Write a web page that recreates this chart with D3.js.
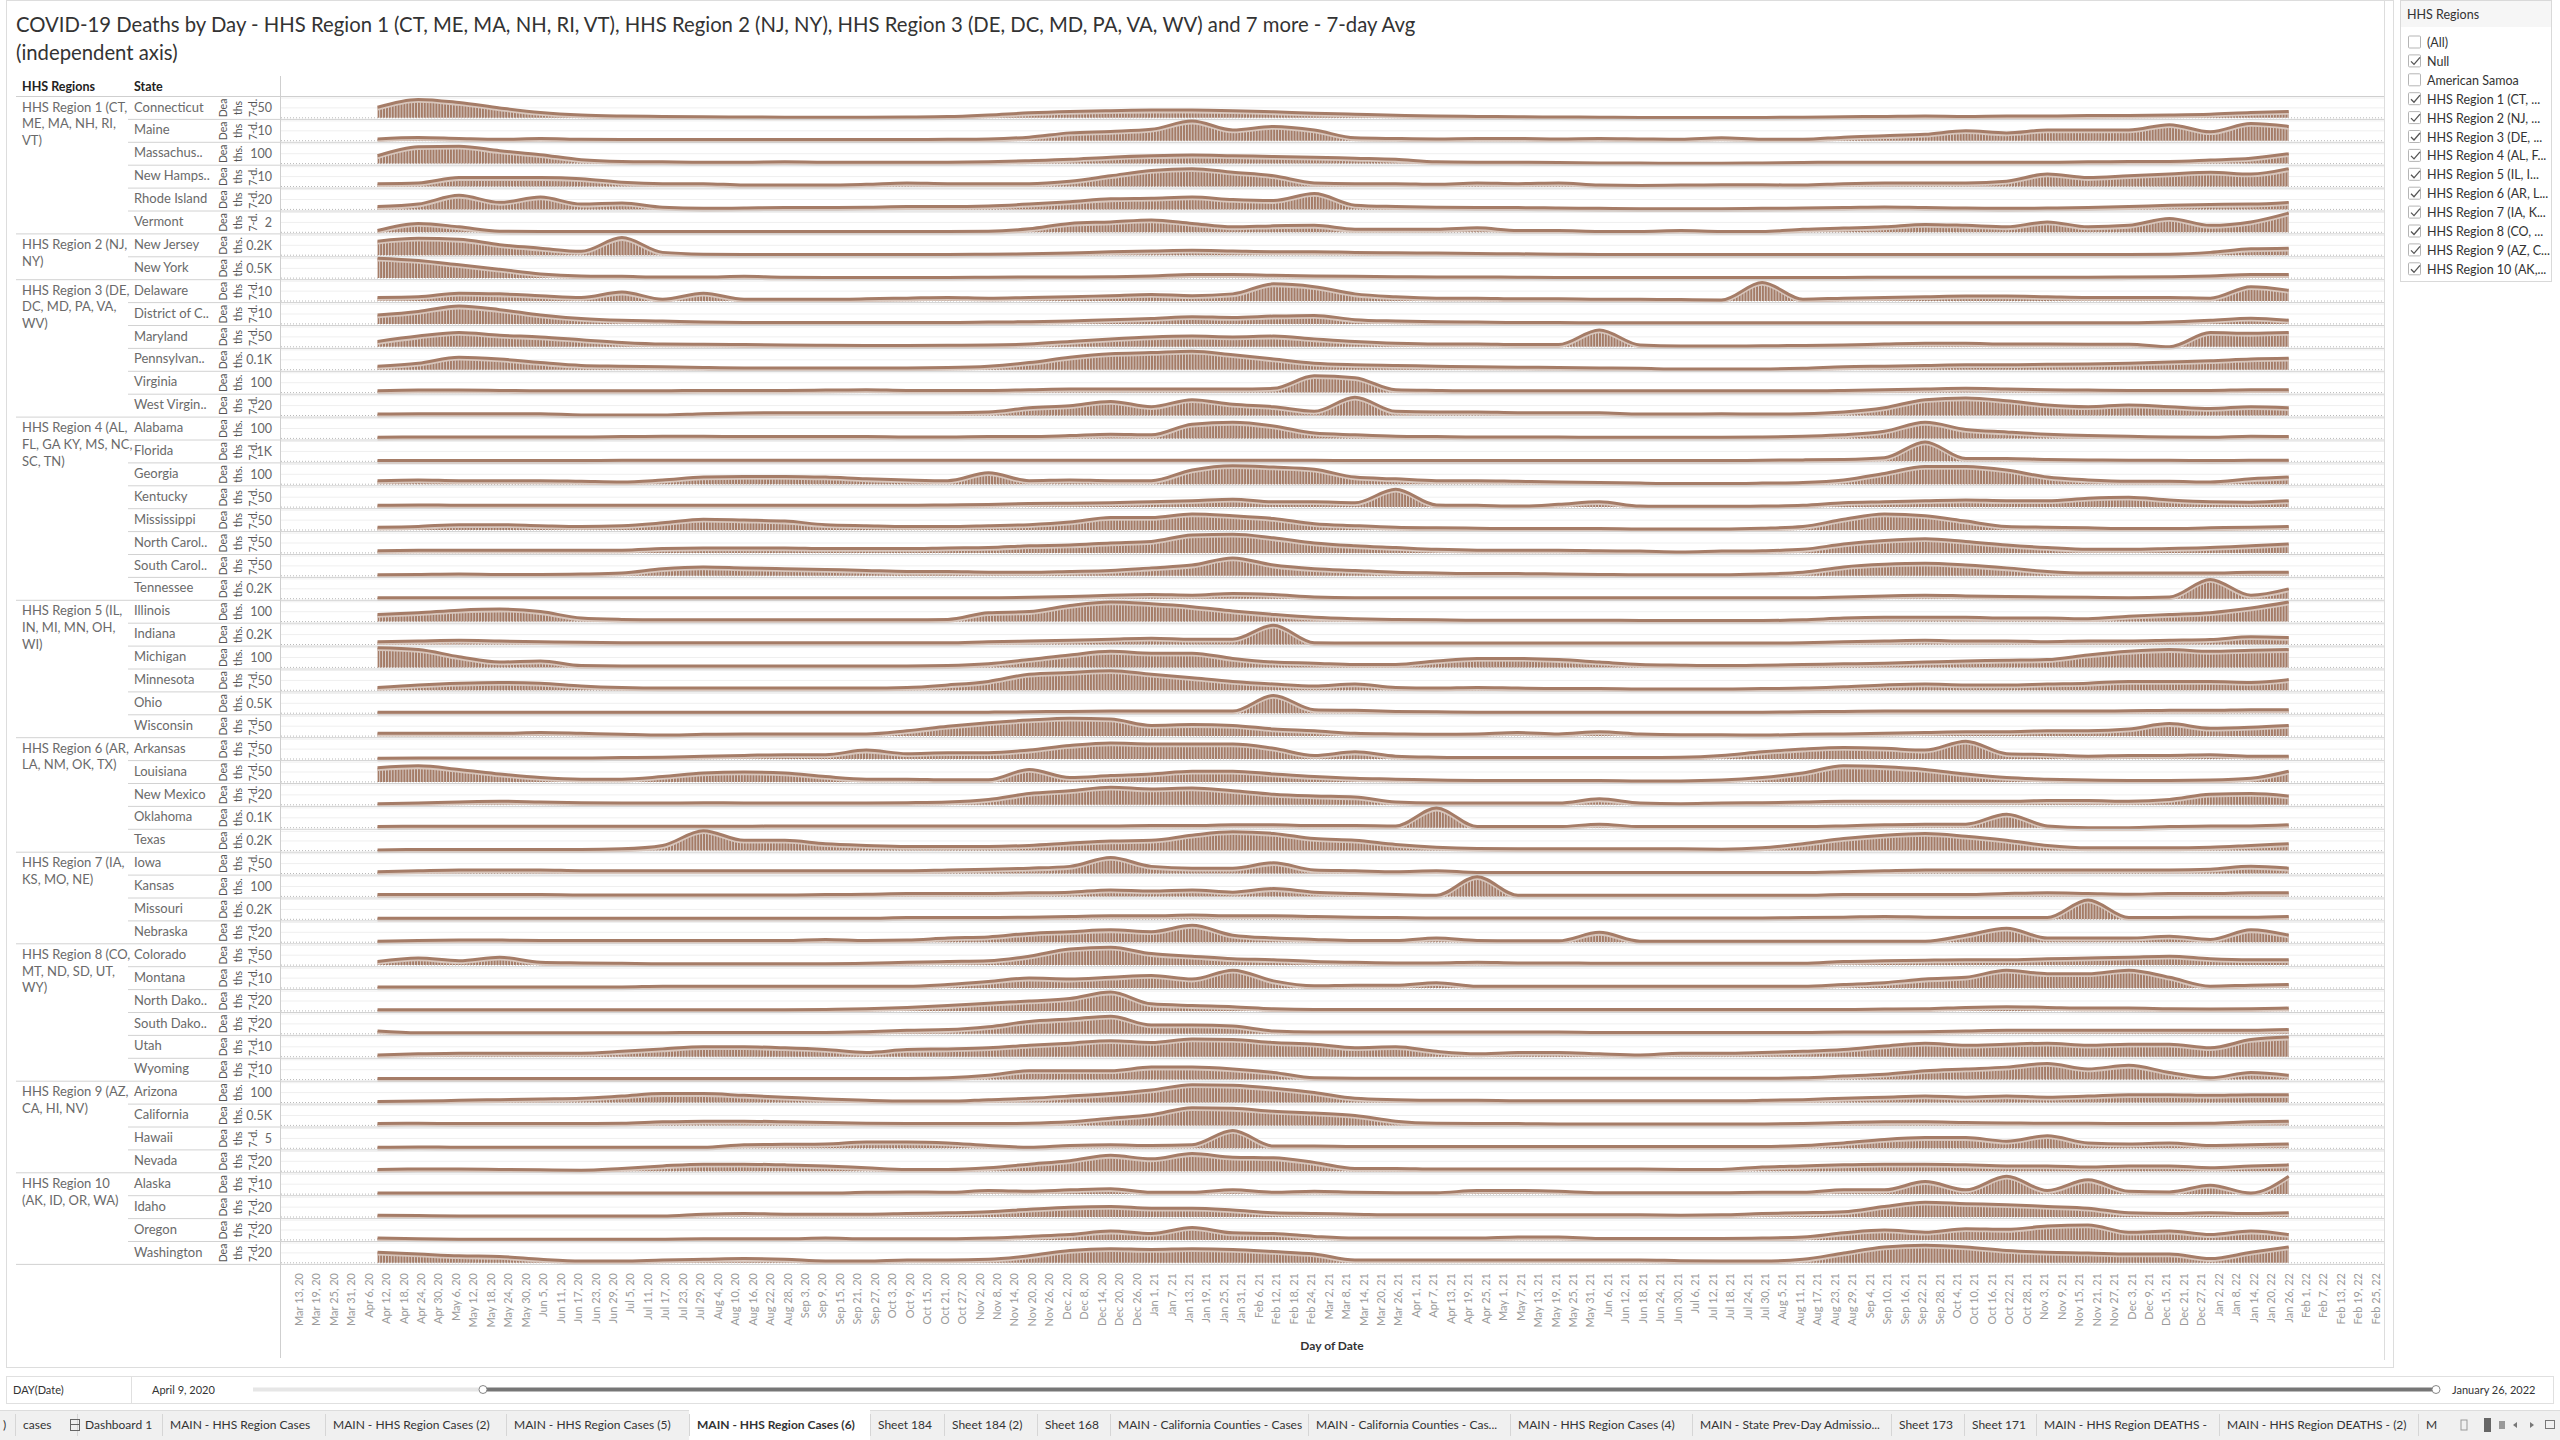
<!DOCTYPE html>
<html lang="en">
<head>
<meta charset="utf-8">
<title>COVID-19 Deaths by Day - HHS Regions</title>
<script src="https://d3js.org/d3.v7.min.js"></script>
<style>
  body { margin: 0; background: #fff; }
  svg { display: block; font-family: Lato, "Open Sans", sans-serif; }
</style>
</head>
<body>
<script>

// ---- data ----
var titleLines = ["COVID-19 Deaths by Day - HHS Region 1 (CT, ME, MA, NH, RI, VT), HHS Region 2 (NJ, NY), HHS Region 3 (DE, DC, MD, PA, VA, WV) and 7 more - 7-day Avg",
                  "(independent axis)"];

var regionLabels = [
  ["HHS Region 1 (CT,", "ME, MA, NH, RI,", "VT)"],
  ["HHS Region 2 (NJ,", "NY)"],
  ["HHS Region 3 (DE,", "DC, MD, PA, VA,", "WV)"],
  ["HHS Region 4 (AL,", "FL, GA KY, MS, NC,", "SC, TN)"],
  ["HHS Region 5 (IL,", "IN, MI, MN, OH,", "WI)"],
  ["HHS Region 6 (AR,", "LA, NM, OK, TX)"],
  ["HHS Region 7 (IA,", "KS, MO, NE)"],
  ["HHS Region 8 (CO,", "MT, ND, SD, UT,", "WY)"],
  ["HHS Region 9 (AZ,", "CA, HI, NV)"],
  ["HHS Region 10", "(AK, ID, OR, WA)"]
];

var stateLabels = [
  ["Connecticut", "Maine", "Massachus..", "New Hamps..", "Rhode Island", "Vermont"],
  ["New Jersey", "New York"],
  ["Delaware", "District of C..", "Maryland", "Pennsylvan..", "Virginia", "West Virgin.."],
  ["Alabama", "Florida", "Georgia", "Kentucky", "Mississippi", "North Carol..", "South Carol..", "Tennessee"],
  ["Illinois", "Indiana", "Michigan", "Minnesota", "Ohio", "Wisconsin"],
  ["Arkansas", "Louisiana", "New Mexico", "Oklahoma", "Texas"],
  ["Iowa", "Kansas", "Missouri", "Nebraska"],
  ["Colorado", "Montana", "North Dako..", "South Dako..", "Utah", "Wyoming"],
  ["Arizona", "California", "Hawaii", "Nevada"],
  ["Alaska", "Idaho", "Oregon", "Washington"]
];

// axis tick shown on each state's independent axis
var tickValues = [
  [50, 10, 100, 10, 20, 2],
  [200, 500],
  [10, 10, 50, 100, 100, 20],
  [100, 1000, 100, 50, 50, 50, 50, 200],
  [100, 200, 100, 50, 500, 50],
  [50, 50, 20, 100, 200],
  [50, 100, 200, 20],
  [50, 10, 20, 20, 10, 10],
  [100, 500, 5, 20],
  [10, 20, 20, 20]
];
var tickLabels = [
  ["50", "10", "100", "10", "20", "2"],
  ["0.2K", "0.5K"],
  ["10", "10", "50", "0.1K", "100", "20"],
  ["100", "1K", "100", "50", "50", "50", "50", "0.2K"],
  ["100", "0.2K", "100", "50", "0.5K", "50"],
  ["50", "50", "20", "0.1K", "0.2K"],
  ["50", "100", "0.2K", "20"],
  ["50", "10", "20", "20", "10", "10"],
  ["100", "0.5K", "5", "20"],
  ["10", "20", "20", "20"]
];

// sample dates (every two weeks, Apr 9 2020 .. Jan 26 2022)
var sampleDates = ["2020-04-09","2020-04-23","2020-05-07","2020-05-21","2020-06-04","2020-06-18","2020-07-02","2020-07-16",
  "2020-07-30","2020-08-13","2020-08-27","2020-09-10","2020-09-24","2020-10-08","2020-10-22","2020-11-05",
  "2020-11-19","2020-12-03","2020-12-17","2020-12-31","2021-01-14","2021-01-28","2021-02-11","2021-02-25",
  "2021-03-11","2021-03-25","2021-04-08","2021-04-22","2021-05-06","2021-05-20","2021-06-03","2021-06-17",
  "2021-07-01","2021-07-15","2021-07-29","2021-08-12","2021-08-26","2021-09-09","2021-09-23","2021-10-07",
  "2021-10-21","2021-11-04","2021-11-18","2021-12-02","2021-12-16","2021-12-30","2022-01-13","2022-01-26"];

// deaths per day, 7-day avg, one array per state
var deathsR1 = [
  [53,93,77,50,27,14,9,7, 5,4,3,3,3,4,6,14, 25,32,36,39,39,36,30,23, 18,13,9,7,5,4,3,2, 2,2,2,3,5,7,9,7, 9,9,11,12,14,18,27,32],
  [1.8,3.2,2.2,1.4,2.2,1.4,1.1,1.1, 1.1,1.1,1.1,1.1,1.1,1.1,1.4,1.8, 3.6,7.9,9.4,11.5,19.8,10.8,14.4,10.8, 2.9,2.2,1.8,2.2,2.2,1.8,2.2,1.8, 1.4,2.9,1.4,1.4,3.6,5,6.5,10, 7.9,10.8,10.8,10.8,16.2,9,17.3,14.4],
  [79,170,175,130,90,40,22,18, 14,14,18,14,14,14,14,18, 29,43,65,79,86,79,72,65, 54,43,18,14,13,11,7,5, 4,4,7,11,14,14,14,14, 14,14,18,22,22,36,54,100],
  [2.9,3.6,9,9,9,7.9,4.3,2.9, 2.9,1.4,1.4,1.4,2.2,3.6,2.9,2.9, 2.9,5.4,10.8,16.2,18,14.4,10.8,3.6, 2.9,2.9,2.2,3.6,2.9,3.6,1.4,1.1, 1.4,1.8,1.8,1.4,2.9,3.6,3.6,3.6, 5.4,12.6,9,10.8,12.6,14.4,12.6,18],
  [5.7,10.7,28.4,14.2,24.9,10.7,12.8,4.3, 2.1,2.8,3.6,3.6,4.3,5.7,5.7,7.1, 10.7,15.6,21.3,22.7,24.9,19.9,17.8,32, 8.5,5.7,4.3,3.6,3.6,2.8,2.1,1.4, 1.4,1.4,2.1,2.8,3.6,5,3.6,2.8, 2.1,2.8,3.6,5.7,8.5,10,10.7,14.2],
  [0.35,1.8,1.1,0.2,0.15,0.15,0.15,0.15, 0.15,0.15,0.15,0.15,0.15,0.15,0.15,0.2, 0.7,1.8,2.1,2.5,1.8,1.1,1.3,1.4, 0.6,0.6,0.6,0.9,0.35,0.35,0.15,0.15, 0.35,0.15,0.15,0.6,0.85,1.1,1.6,1.4, 1.1,2.1,1.1,1.4,2.8,1.4,2.1,3.9]
];
var deathsR2 = [
  [284,341,320,213,142,78,355,57, 21,14,14,14,14,14,14,21, 28,43,71,85,99,85,71,71, 57,50,43,35,28,21,14,14, 14,14,14,14,14,14,14,14, 14,14,14,14,21,57,128,142],
  [1020,900,680,450,215,110,90,55, 55,90,40,36,36,36,36,45, 54,54,72,107,180,180,143,107, 90,72,54,54,45,36,36,36, 36,36,36,36,36,40,45,45, 45,45,45,54,72,107,180,180]
];
var deathsR3 = [
  [3.6,4.3,7.9,7.2,5.4,3.6,9,1.8, 7.9,1.8,1.8,1.8,2.2,2.9,3.6,2.9, 3.6,4.3,5.4,6.5,5.4,7.2,17.3,14.4, 7.2,4.3,2.9,2.9,2.2,2.2,1.8,1.8, 1.4,1.1,18.7,1.8,2.9,3.6,4.3,5, 5,4.3,3.6,3.6,3.6,2.9,14.4,10.8],
  [9,12.6,18,14.4,9,5.4,3.6,2.9, 1.8,1.4,1.4,1.4,1.4,1.4,1.4,1.8, 2.2,2.9,4.3,5.4,7.2,6.5,7.9,8.6, 4.3,2.9,2.2,1.8,1.4,1.4,1.1,1.1, 1.1,1.1,1.1,1.1,1.1,1.1,1.1,1.1, 1.1,1.1,1.1,1.1,1.8,3.6,5.8,3.6],
  [27,54,72,58,50,36,22,14, 13,11,9,8,7,7,8,9, 14,27,40,50,54,50,54,40, 27,18,14,14,11,11,85,9, 4,4,5,7,9,14,18,18, 14,14,13,13,0,72,68,72],
  [36,65,126,108,72,43,36,29, 22,18,18,18,18,18,22,36, 72,126,162,173,187,151,108,65, 50,43,36,29,25,22,18,14, 7,7,7,14,29,36,43,50, 50,54,58,65,79,90,108,115],
  [18,25,25,22,18,18,18,18, 22,22,22,25,29,22,22,22, 29,36,36,36,36,36,43,170, 150,29,22,18,18,18,18,18, 18,18,18,18,22,29,36,43, 36,29,25,22,22,22,29,29],
  [2.8,3.6,3.6,3.6,3.6,1,1,1, 3.6,5,5.7,5.7,5.7,5.7,5.7,7.1, 15.6,19.9,28.4,17.8,32,22.7,17.8,8.5, 37,8.5,7.1,7.1,5.7,5.7,5.7,2.8, 2.8,3.6,2.8,3.6,7.1,15.6,32,35.5, 30,21.3,17.8,21.3,17.8,14.2,17.8,15.6]
];
var deathsR4 = [
  [11,14,14,14,14,14,18,22, 22,18,18,18,18,14,14,18, 18,29,43,36,144,162,126,54, 36,22,18,14,14,14,11,11, 11,11,14,22,36,72,162,90, 65,43,29,22,14,11,22,18],
  [71,71,71,71,71,71,107,107, 107,107,107,107,107,107,107,107, 107,107,107,107,107,107,107,107, 71,71,71,71,71,71,71,71, 71,71,107,143,178,357,1960,286, 286,178,143,107,107,71,107,107],
  [36,43,36,36,36,29,22,43, 72,79,79,72,54,43,36,115, 36,43,36,36,144,187,173,151, 72,54,36,36,29,22,18,11, 7,7,11,18,43,108,180,180, 144,72,43,29,29,22,54,72],
  [9,11,9,9,9,9,9,9, 9,9,9,9,9,9,11,13, 18,20,22,27,32,40,27,27, 22,90,11,9,5,14,27,5, 4,4,5,9,22,27,32,36, 32,32,45,50,36,27,25,32],
  [14,18,27,27,22,18,22,36, 54,50,45,27,22,18,18,22, 27,40,63,63,81,72,58,32, 22,14,11,9,7,7,7,5, 5,5,9,18,54,81,72,45, 18,14,11,7,7,11,14,18],
  [11,13,14,14,14,14,14,22, 25,25,25,22,22,22,25,27, 36,40,50,58,90,94,76,50, 36,27,18,14,14,14,11,9, 5,9,11,18,45,63,72,58, 40,27,18,18,22,27,36,45],
  [5,7,9,7,7,9,14,36, 45,40,36,32,27,22,22,18, 18,22,27,40,54,90,54,36, 27,18,14,11,11,9,7,5, 5,5,9,18,45,58,63,54, 40,22,14,14,14,14,18,18],
  [21,21,21,21,21,21,21,21, 21,21,21,21,21,21,21,21, 28,43,71,85,71,107,85,36, 21,21,21,21,21,21,21,21, 21,21,21,21,36,57,71,57, 43,36,28,21,36,390,71,199]
];
var deathsR5 = [
  [72,90,115,126,101,36,22,18, 18,18,18,18,18,18,22,90, 101,162,198,180,151,108,72,43, 29,22,18,14,14,14,14,11, 11,11,11,18,36,43,43,43, 36,36,29,54,72,90,137,198],
  [57,71,85,71,57,43,36,36, 36,36,36,36,36,36,36,57, 71,85,107,128,107,107,390,36, 28,28,28,28,28,28,28,28, 28,28,28,36,57,71,85,71, 71,57,71,71,85,99,156,142],
  [198,180,108,54,65,18,14,14, 14,14,14,14,14,14,18,36, 79,126,162,144,144,90,54,43, 29,29,65,90,90,79,54,29, 22,18,22,29,36,43,54,65, 72,79,126,162,180,162,173,180],
  [14,27,36,40,36,22,14,11, 11,11,11,11,11,14,27,45, 81,90,99,81,63,45,32,22, 32,14,11,14,11,9,9,7, 7,7,9,11,18,27,32,27, 27,32,36,45,45,45,40,54],
  [54,54,54,54,54,54,54,54, 54,54,54,54,54,54,54,54, 72,90,107,107,107,107,900,179, 143,90,72,54,54,54,54,54, 54,54,54,72,90,107,107,107, 107,107,107,125,143,143,179,179],
  [14,14,14,14,18,14,9,5, 9,11,11,11,11,27,50,68, 81,90,86,54,58,54,36,27, 14,11,9,11,18,11,22,11, 7,7,5,9,11,14,18,22, 22,27,27,36,63,40,45,54]
];
var deathsR6 = [
  [4,5,5,5,5,5,7,9, 14,18,22,22,45,27,32,32, 45,68,81,76,76,76,54,18, 36,14,9,7,7,7,7,7, 9,18,36,50,58,54,45,90, 27,22,14,18,18,22,14,14],
  [72,81,63,40,22,14,14,27, 45,50,45,27,14,14,11,11, 63,22,32,40,54,54,40,27, 18,14,9,7,7,7,7,5, 5,9,22,45,81,76,63,40, 22,14,9,7,7,9,18,54],
  [2,3.6,5.7,7.1,5.7,4.3,3.6,3.6, 4.3,3.6,3.6,3.6,3.6,4.3,5.7,10.7, 22.7,28.4,35.5,32,34,28.4,21.3,17.8, 15.6,5.7,3.6,3.6,3.6,3.6,12,3.6, 2.1,3.6,4.3,5.7,7.1,7.1,7.1,7.1, 7.1,8.5,8.5,7.1,10.7,21.3,22.7,17.8],
  [11,14,14,14,14,14,14,14, 14,14,18,18,18,18,18,18, 18,18,18,22,22,29,29,22, 22,18,198,11,11,11,36,11, 11,11,11,11,18,29,36,36, 137,18,0,0,11,18,18,29],
  [14,21,21,21,21,21,36,107, 412,213,213,142,107,85,85,85, 107,156,199,213,320,390,355,249, 213,128,71,43,36,36,36,36, 36,28,57,142,249,320,355,298, 213,107,57,57,57,71,107,142]
];
var deathsR7 = [
  [9,14,18,18,18,14,14,14, 14,14,14,14,14,14,18,22, 27,36,81,36,27,27,54,18, 14,9,14,5,5,5,5,5, 5,5,5,5,9,14,18,18, 18,18,18,18,18,22,36,27],
  [18,18,18,18,18,14,14,14, 14,14,14,18,22,29,29,29, 36,43,65,54,65,43,79,43, 29,18,11,198,11,11,11,11, 11,11,11,11,18,18,18,18, 29,36,29,22,29,29,36,36],
  [21,21,21,21,21,21,21,21, 21,21,21,21,21,36,36,36, 43,57,71,71,85,71,71,57, 43,36,28,28,28,28,28,28, 28,28,28,36,43,57,43,36, 36,36,390,36,36,43,43,57],
  [2,3.6,4.3,4.3,3.6,3.6,3.6,3.6, 3.6,3.6,3.6,5.7,3.6,4.3,8.5,10.7, 17.8,21.3,24.9,21.3,34,14.2,8.5,5.7, 3.6,3.6,8.5,3.6,2.8,2.8,19.9,2.1, 2.1,2.1,2.1,2.1,2.1,2.1,2.1,14.2, 28.4,8.5,8.5,8.5,12,5.7,24.9,14.2]
];
var deathsR8 = [
  [18,36,22,40,14,11,9,7, 7,7,7,7,9,14,18,22, 45,81,90,58,45,32,27,18, 14,11,11,14,11,11,9,9, 9,9,9,9,18,22,25,27, 27,32,36,40,45,32,27,27],
  [1.1,1.1,1.1,1.1,1.1,1.1,1.1,1.8, 1.8,1.8,1.8,1.8,1.8,1.8,3.6,6.5, 10,9,10.8,12.6,9,18,7.2,2.2, 2.9,2.9,5.4,1.8,1.8,1.8,1.8,1.8, 1.8,1.8,1.8,1.8,3.6,5.4,9,10.8, 18,14.4,14.4,18,10.8,1.8,2.9,3.6],
  [2.1,2.1,2.1,2.1,2.1,2.1,2.1,2.1, 2.1,2.1,2.1,2.8,4.3,7.1,10.7,15.6, 19.9,24.9,38,14.2,10.7,8.5,4.3,2.8, 2.8,2.8,2.8,2.8,2.8,2.8,2.8,2.8, 2.8,2.8,2.8,2.8,2.8,3.6,4.3,7.1, 8.5,7.1,5.7,5.7,4.3,3.6,4.3,5.7],
  [5.7,2.1,2.1,2.1,2.1,2.1,2.1,2.1, 2.8,2.8,2.8,2.8,4.3,7.1,8.5,14.2, 24.9,29.8,35.5,17.8,17.8,15.6,5.7,3.6, 3.6,3.6,3.6,3.6,3.6,3.6,2.8,2.8, 2.8,2.8,2.8,2.8,3.6,3.6,4.3,5.7, 7.1,7.1,7.1,7.1,7.1,7.1,7.1,8.5],
  [1.8,2.9,3.6,3.6,3.6,3.6,5.4,7.9, 10,10,9,7.2,4.3,7.2,7.9,9, 11.5,13.7,16.2,14.4,18,17.3,14.4,12.6, 9,10,5.4,2.9,4.3,4.3,2.9,1.8, 3.6,3.6,4.3,5.4,7.2,10.8,13.7,11.5, 12.6,13.7,11.5,12.6,12.6,9,17.3,19.8],
  [1.1,1.1,1.1,1.1,1.1,1.1,1.1,1.1, 1.1,1.1,1.1,1.1,1.1,1.1,1.8,4.3, 9,9,9,12.6,12.6,10.8,7.2,1.8, 1.4,1.4,1.4,1.4,1.4,1.4,1.4,1.4, 1.4,1.4,1.4,1.8,3.6,5.4,9,10.8, 12.6,16.2,10.8,14.4,7.2,1.8,7.2,4.3]
];
var deathsR9 = [
  [11,14,22,29,36,43,65,90, 90,72,54,36,22,14,14,29, 43,65,90,126,180,173,144,101, 43,29,22,22,18,18,18,18, 18,18,22,29,43,54,65,54, 65,54,65,79,79,72,79,79],
  [90,107,90,90,90,90,107,179, 215,215,179,143,107,90,90,90, 107,179,358,537,895,860,716,627, 501,215,107,90,90,72,72,72, 72,72,72,90,143,179,179,143, 125,107,107,90,90,107,179,215],
  [0.5,0.7,0.5,0.5,0.5,0.5,0.5,0.5, 0.5,1.8,2,2.2,3.2,3.2,2.7,1.4, 0.5,1.4,1.8,1.4,1.8,9,1.1,1.1, 0.9,0.9,0.9,0.9,0.9,0.9,0.9,0.9, 0.9,0.9,0.9,1.4,2.7,4.5,5.4,5.4, 3.6,6.3,2.7,2.2,2.7,1.4,1.8,2.2],
  [3.6,4.3,4.3,3.6,2.8,2.1,5.7,10.7, 14.2,14.2,12.8,10.7,7.1,3.6,3.6,7.1, 14.2,21.3,32,24.9,35.5,28.4,27,17.8, 5.7,5.7,4.3,4.3,4.3,4.3,4.3,4.3, 3.6,3.6,8.5,10.7,12.8,14.2,14.2,12.8, 10.7,10.7,8.5,10.7,10.7,7.1,10.7,12.8]
];
var deathsR10 = [
  [1.1,1.1,1.1,1.1,1.1,1.1,1.1,1.1, 1.1,1.1,1.1,1.1,1.8,2.2,1.8,3.6, 2.9,4.3,5.4,1.8,1.8,4.3,1.8,2.9, 1.8,1.4,1.4,3.6,3.6,2.9,1.4,1.4, 1.4,1.4,1.8,1.8,4.3,4.3,12.6,4.3, 18,3.6,14.4,2.9,2.2,9,1.1,18],
  [3.6,2.8,2.1,2.1,2.1,2.1,2.1,2.1, 5.7,7.1,5.7,5.7,5.7,7.1,8.5,10.7, 15.6,19.9,21.3,17.8,17.8,14.2,8.5,7.1, 5.7,4.3,4.3,4.3,4.3,4.3,4.3,4.3, 3.6,4.3,7.1,8.5,10.7,21.3,29.8,27, 24.9,21.3,17.8,8.5,7.1,8.5,7.1,8.5],
  [3.6,2.1,1.4,1.4,1.4,1.4,1.4,1.4, 2.1,2.1,2.1,3.6,2.1,2.1,2.1,3.6, 7.1,10.7,17.8,12.8,24.9,14.2,12.8,7.1, 3.6,3.6,3.6,3.6,5.7,5.7,2.8,2.8, 2.8,2.8,3.6,5.7,14.2,19.9,15.6,22.7, 21.3,28,30,15.6,17.8,10.7,17.8,10.7],
  [21.3,17.8,14.2,12.8,7.1,3.6,3.6,5.7, 7.1,8.5,7.1,3.6,3.6,5.7,5.7,7.1, 14.2,24.9,28.4,27,28.4,27,22.7,17.8, 5.7,5.7,5.7,5.7,5.7,5.7,5.7,5.7, 4.3,3.6,3.6,7.1,19.9,32,35.5,32, 24.9,21.3,19.9,17.8,17.8,8.5,21.3,32]
];

var filterItems = ["(All)", "Null", "American Samoa", "HHS Region 1 (CT, ...", "HHS Region 2 (NJ, ...", "HHS Region 3 (DE, ...",
  "HHS Region 4 (AL, F...", "HHS Region 5 (IL, I...", "HHS Region 6 (AR, L...", "HHS Region 7 (IA, K...", "HHS Region 8 (CO, ...",
  "HHS Region 9 (AZ, C...", "HHS Region 10 (AK,..."];
var filterChecked = [false, true, false, true, true, true, true, true, true, true, true, true, true];

var tabNames = [")", "cases", "Dashboard 1", "MAIN - HHS Region Cases", "MAIN - HHS Region Cases (2)", "MAIN - HHS Region Cases (5)",
  "MAIN - HHS Region Cases (6)", "Sheet 184", "Sheet 184 (2)", "Sheet 168", "MAIN - California Counties - Cases",
  "MAIN - California Counties - Cas...", "MAIN - HHS Region Cases (4)", "MAIN - State Prev-Day Admissio...", "Sheet 173",
  "Sheet 171", "MAIN - HHS Region DEATHS -", "MAIN - HHS Region DEATHS - (2)", "M"];
var activeTab = 6;

// ---- layout ----
var w = 2560, h = 1440;
var rowTop0 = 96.5, rowH = 22.9;
var plotL = 280, plotR = 2384;
var brown = "#a57c67";
var tabLeft = [3, 23, 85, 170, 333, 514, 697, 878, 952, 1045, 1118, 1316, 1518, 1700, 1899, 1972, 2044, 2227, 2426];

var parseDate = d3.timeParse("%Y-%m-%d");
var dates = sampleDates.map(parseDate);
var xScale = d3.scaleTime()
  .domain([parseDate("2020-03-13"), parseDate("2022-02-25")])
  .range([299, 2376]);
var dayW = xScale(parseDate("2020-03-14")) - xScale(parseDate("2020-03-13"));

// flatten the region tables into rows
var rows = [];
var allDeaths = [deathsR1, deathsR2, deathsR3, deathsR4, deathsR5, deathsR6, deathsR7, deathsR8, deathsR9, deathsR10];
stateLabels.forEach(function(list, r) {
  list.forEach(function(name, j) {
    rows.push({region: r, first: j === 0, state: name, tick: tickValues[r][j], tickLabel: tickLabels[r][j], deaths: allDeaths[r][j]});
  });
});

var svg = d3.select("body").append("svg").attr("width", w).attr("height", h);

// stripe pattern that stands in for the daily bars
var defs = svg.append("defs");
var pat = defs.append("pattern").attr("id", "bars").attr("patternUnits", "userSpaceOnUse")
  .attr("width", dayW).attr("height", 40)
  .attr("patternTransform", "translate(" + (xScale(dates[0]) - 0.3) + ",0)");
pat.append("rect").attr("width", dayW).attr("height", 40).attr("fill", "#d9d1cd");
pat.append("rect").attr("width", dayW * 0.68).attr("height", 40).attr("fill", brown);

// sheet frame
svg.append("rect").attr("x", 6.5).attr("y", 0.5).attr("width", 2387).attr("height", 1367)
  .attr("fill", "none").attr("stroke", "#dddddd");

// title
svg.selectAll("text.title").data(titleLines).enter().append("text").attr("class", "title")
  .attr("x", 16).attr("y", function(d, i) { return 32 + i * 28; })
  .attr("font-size", "20.3px").attr("fill", "#333").text(function(d) { return d; });

// column headers
svg.append("text").attr("x", 22).attr("y", 91).attr("font-size", "12.5px").attr("font-weight", "bold").attr("fill", "#222").text("HHS Regions");
svg.append("text").attr("x", 134).attr("y", 91).attr("font-size", "12.5px").attr("font-weight", "bold").attr("fill", "#222").text("State");

svg.append("line").attr("x1", 16).attr("x2", plotR).attr("y1", rowTop0).attr("y2", rowTop0).attr("stroke", "#cfcfcf");
svg.append("line").attr("x1", plotL + 0.5).attr("x2", plotL + 0.5).attr("y1", 76).attr("y2", 1358).attr("stroke", "#cfcfcf");
svg.append("line").attr("x1", plotR + 0.5).attr("x2", plotR + 0.5).attr("y1", 0).attr("y2", 1360).attr("stroke", "#dddddd");

var area = d3.area().curve(d3.curveMonotoneX);
var line = d3.line().curve(d3.curveMonotoneX);

rows.forEach(function(row, i) {
  var top = rowTop0 + i * rowH;
  var base = top + 21.3;
  var yMax = Math.max(row.tick * 2.05, d3.max(row.deaths) * 1.02);
  var yScale = d3.scaleLinear().domain([0, yMax]).range([base, top + 1]);
  var g = svg.append("g");

  // gridlines
  [row.tick, row.tick * 2].forEach(function(v) {
    g.append("line").attr("x1", plotL + 1).attr("x2", plotR).attr("y1", yScale(v)).attr("y2", yScale(v))
      .attr("stroke", "#efefef");
  });
  g.append("line").attr("x1", plotL + 1).attr("x2", plotR).attr("y1", base).attr("y2", base)
    .attr("stroke", "#b9b9b9").attr("stroke-dasharray", "1,2");

  var pts = row.deaths.map(function(v, k) { return [xScale(dates[k]), yScale(v)]; });
  area.x(function(d) { return d[0]; }).y0(base).y1(function(d) { return d[1]; });
  g.append("path").attr("d", area(pts)).attr("fill", "url(#bars)");
  g.append("path").attr("d", line(pts)).attr("fill", "none").attr("stroke", "#d8c6bc")
    .attr("stroke-width", 3).attr("transform", "translate(0,1.8)");
  g.append("path").attr("d", line(pts)).attr("fill", "none").attr("stroke", brown)
    .attr("stroke-width", 3).attr("stroke-linejoin", "round");

  // state label and rotated axis title
  g.append("text").attr("x", 134).attr("y", top + 15).attr("font-size", "13px").attr("fill", "#6a6a6a").text(row.state);
  var cy = top + rowH / 2;
  var parts = row.tickLabel.length > 2 ? ["Dea", "ths."] : ["Dea", "ths", "7-d."];
  parts.forEach(function(t, k) {
    g.append("text").attr("transform", "translate(" + (223 + k * 15) + "," + cy + ") rotate(-90)")
      .attr("text-anchor", "middle").attr("dy", "0.35em").attr("font-size", "10.5px").attr("fill", "#555").text(t);
  });
  g.append("text").attr("x", 272).attr("y", yScale(row.tick)).attr("dy", "0.36em").attr("text-anchor", "end")
    .attr("font-size", "12.5px").attr("fill", "#666").text(row.tickLabel);

  // region label
  if (row.first) {
    regionLabels[row.region].forEach(function(t, k) {
      g.append("text").attr("x", 22).attr("y", top + 15 + k * 16.7).attr("font-size", "13px").attr("fill", "#6a6a6a").text(t);
    });
  }
  // row separator below
  var next = rows[i + 1];
  var x1 = (!next || next.region !== row.region) ? 16 : 128;
  g.append("line").attr("x1", x1).attr("x2", plotR).attr("y1", top + rowH).attr("y2", top + rowH).attr("stroke", "#d2d2d2");
});

// x axis labels every 6 days
var axisStart = parseDate("2020-03-13");
var tickDates = d3.range(0, 715, 6).map(function(d) { return d3.timeDay.offset(axisStart, d); });
var fmt = d3.timeFormat("%b %-d, %y");
svg.append("g").selectAll("text").data(tickDates).enter().append("text")
  .attr("transform", function(d) { return "translate(" + xScale(d) + ",1273) rotate(-90)"; })
  .attr("text-anchor", "end").attr("dy", "0.35em").attr("font-size", "11px").attr("fill", "#9a9a9a")
  .text(function(d) { return fmt(d); });
svg.append("text").attr("x", 1332).attr("y", 1350).attr("text-anchor", "middle").attr("font-size", "12px")
  .attr("font-weight", "bold").attr("fill", "#333").text("Day of Date");

// filter card
var fc = svg.append("g");
fc.append("rect").attr("x", 2400.5).attr("y", 0.5).attr("width", 151).attr("height", 281).attr("fill", "#fff").attr("stroke", "#d9d9d9");
fc.append("rect").attr("x", 2401).attr("y", 1).attr("width", 150).attr("height", 26).attr("fill", "#f6f6f6");
fc.append("text").attr("x", 2407).attr("y", 19).attr("font-size", "12.5px").attr("fill", "#333").text("HHS Regions");
filterItems.forEach(function(t, i) {
  var cy = 42.5 + i * 18.9;
  fc.append("rect").attr("x", 2408.5).attr("y", cy - 6.5).attr("width", 12).attr("height", 12).attr("rx", 1)
    .attr("fill", "#fff").attr("stroke", "#b5b5b5");
  if (filterChecked[i]) {
    fc.append("path").attr("d", "M" + 2411 + "," + (cy) + " l3,3 l6,-7").attr("fill", "none").attr("stroke", "#555").attr("stroke-width", 1.3);
  }
  fc.append("text").attr("x", 2427).attr("y", cy).attr("dy", "0.36em").attr("font-size", "12.5px").attr("fill", "#333").text(t);
});

// date range slider
var sl = svg.append("g");
sl.append("rect").attr("x", 6.5).attr("y", 1376.5).attr("width", 2547).attr("height", 27).attr("fill", "#fff").attr("stroke", "#e0e0e0");
sl.append("line").attr("x1", 131.5).attr("x2", 131.5).attr("y1", 1377).attr("y2", 1403).attr("stroke", "#e0e0e0");
sl.append("text").attr("x", 13).attr("y", 1390).attr("dy", "0.36em").attr("font-size", "11px").attr("fill", "#333").text("DAY(Date)");
sl.append("text").attr("x", 152).attr("y", 1390).attr("dy", "0.36em").attr("font-size", "11px").attr("fill", "#333").text("April 9, 2020");
sl.append("rect").attr("x", 253).attr("y", 1387.5).attr("width", 232).attr("height", 4).attr("fill", "#e6e6e6");
sl.append("rect").attr("x", 485).attr("y", 1387.5).attr("width", 1950).attr("height", 4).attr("fill", "#767676");
[483, 2436].forEach(function(cx) {
  sl.append("circle").attr("cx", cx).attr("cy", 1389.5).attr("r", 4).attr("fill", "#fff").attr("stroke", "#888");
});
sl.append("text").attr("x", 2452).attr("y", 1390).attr("dy", "0.36em").attr("font-size", "11px").attr("fill", "#333").text("January 26, 2022");

// sheet tabs
var tb = svg.append("g");
tb.append("rect").attr("x", 0).attr("y", 1410).attr("width", w).attr("height", 30).attr("fill", "#f0f0f0");
tb.append("line").attr("x1", 0).attr("x2", w).attr("y1", 1410.5).attr("y2", 1410.5).attr("stroke", "#dcdcdc");
tb.append("rect").attr("x", 689).attr("y", 1410).attr("width", 181).attr("height", 30).attr("fill", "#fff");
tabNames.forEach(function(t, i) {
  tb.append("text").attr("x", tabLeft[i]).attr("y", 1425).attr("dy", "0.36em").attr("font-size", "12px")
    .attr("fill", "#333").attr("font-weight", i === activeTab ? "bold" : "normal").text(t);
  if (i > 0) {
    tb.append("line").attr("x1", tabLeft[i] - 7.5).attr("x2", tabLeft[i] - 7.5).attr("y1", 1414).attr("y2", 1436).attr("stroke", "#d6d6d6");
  }
});
// dashboard icon and navigation icons
tb.append("rect").attr("x", 70.5).attr("y", 1419.5).attr("width", 9).attr("height", 11).attr("fill", "none").attr("stroke", "#666");
tb.append("line").attr("x1", 70.5).attr("x2", 79.5).attr("y1", 1424.5).attr("y2", 1424.5).attr("stroke", "#666");
tb.append("rect").attr("x", 2461).attr("y", 1420).attr("width", 6).attr("height", 10).attr("fill", "none").attr("stroke", "#999");
tb.append("rect").attr("x", 2484).attr("y", 1418).attr("width", 7).attr("height", 14).attr("fill", "#666");
tb.append("rect").attr("x", 2499).attr("y", 1421).attr("width", 6).attr("height", 8).attr("fill", "#999");
tb.append("path").attr("d", "M2517,1422 l-4,3 l4,3 z").attr("fill", "#777");
tb.append("path").attr("d", "M2530,1422 l4,3 l-4,3 z").attr("fill", "#777");
tb.append("rect").attr("x", 2545.5).attr("y", 1420.5).attr("width", 9).attr("height", 8).attr("fill", "none").attr("stroke", "#777");

</script>
</body>
</html>
